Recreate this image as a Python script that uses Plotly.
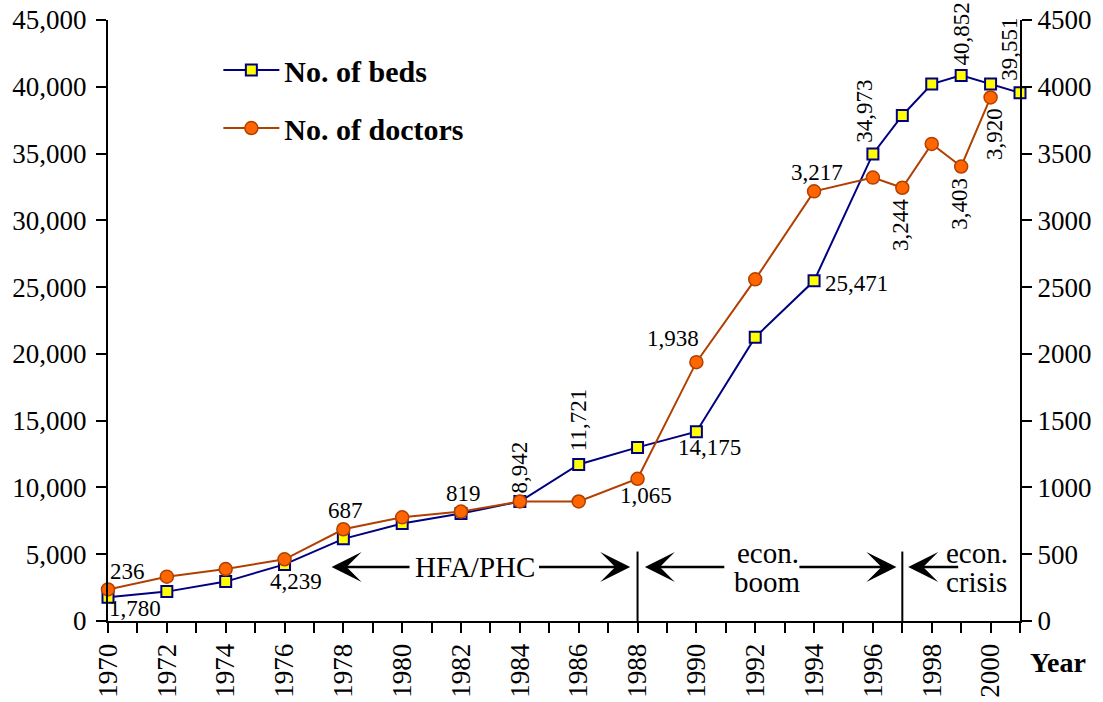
import plotly.graph_objects as go

# ---------------- data ----------------
years_beds = [1970, 1972, 1974, 1976, 1978, 1980, 1982, 1984, 1986, 1988, 1990,
              1992, 1994, 1996, 1997, 1998, 1999, 2000, 2001]
beds = [1780, 2200, 2950, 4239, 6150, 7300, 8050, 8942, 11721, 13000, 14175,
        21250, 25471, 34973, 37850, 40200, 40852, 40200, 39551]

years_docs = [1970, 1972, 1974, 1976, 1978, 1980, 1982, 1984, 1986, 1988, 1990,
              1992, 1994, 1996, 1997, 1998, 1999, 2000]
doctors = [236, 332, 389, 462, 687, 776, 819, 895, 895, 1065, 1938,
           2558, 3217, 3320, 3244, 3572, 3403, 3920]

x_ticks = list(range(1970, 2002))
x_ticktext = [str(y) if y % 2 == 0 else "" for y in x_ticks]

# labelled points: year -> (xshift, yshift, angle)
beds_label_style = {1970: (27, -11, 0), 1976: (11, -17, 0), 1984: (0, 34, -90),
                    1986: (0, 44, -90), 1990: (13, -16, 0), 1994: (42, -3, 0),
                    1996: (-8, 43, -90), 1999: (0, 41, -90), 2001: (-10, 43, -90)}
docs_label_style = {1970: (19, 18, 0), 1978: (2, 19, 0), 1982: (2, 18, 0),
                    1988: (8, -17, 0), 1990: (-23, 24, 0), 1994: (3, 19, 0),
                    1997: (-2, -37, -90), 1999: (-2, -37, -90), 2000: (4, -37, -90)}

period_dividers = [1988, 1997]
divider_top = 520          # on doctors axis
arrow_level = 405          # on doctors axis

FONT = "Liberation Serif"
BEDS_LINE = "#000080"
BEDS_FILL = "#FFFF00"
DOC_LINE = "#B04000"
DOC_FILL = "#FF6600"

fig = go.Figure()
fig.add_trace(go.Scatter(
    x=years_beds, y=beds, name="<b>No. of beds</b>", mode="lines+markers",
    line=dict(color=BEDS_LINE, width=2),
    marker=dict(symbol="square", size=11, color=BEDS_FILL,
                line=dict(color=BEDS_LINE, width=2)),
    cliponaxis=False, legendgroup="a"))
fig.add_trace(go.Scatter(
    x=years_docs, y=doctors, name="<b>No. of doctors</b>", mode="lines+markers",
    line=dict(color=DOC_LINE, width=2),
    marker=dict(symbol="circle", size=13, color=DOC_FILL,
                line=dict(color=DOC_LINE, width=1.5)),
    cliponaxis=False, yaxis="y2", legendgroup="b"))

annotations = []
for yr, v in zip(years_beds, beds):
    if yr in beds_label_style:
        xs, ys, ang = beds_label_style[yr]
        annotations.append(dict(x=yr, y=v, xref="x", yref="y", text=f"{v:,}",
                                showarrow=False, xshift=xs, yshift=ys, textangle=ang,
                                font=dict(family=FONT, size=23, color="black")))
for yr, v in zip(years_docs, doctors):
    if yr in docs_label_style:
        xs, ys, ang = docs_label_style[yr]
        annotations.append(dict(x=yr, y=v, xref="x", yref="y2", text=f"{v:,}",
                                showarrow=False, xshift=xs, yshift=ys, textangle=ang,
                                font=dict(family=FONT, size=23, color="black")))

# period arrows: (head_x, tail_x)
arrows = [(1977.6, 1980.3), (1987.75, 1984.6), (1988.25, 1991.0),
          (1996.8, 1993.45), (1997.2, 1998.95)]
for hx, tx in arrows:
    annotations.append(dict(x=hx, y=arrow_level, xref="x", yref="y2",
                            ax=tx, ay=arrow_level, axref="x", ayref="y2",
                            text="", showarrow=True, arrowhead=3, arrowsize=2,
                            arrowwidth=2.5, arrowcolor="black", standoff=0))

period_texts = [("HFA/PHC", 1982.47, 0), ("econ.", 1992.43, 14), ("boom", 1992.43, -15),
                ("econ.", 1999.53, 14), ("crisis", 1999.53, -15)]
for t, xx, ys in period_texts:
    annotations.append(dict(x=xx, y=arrow_level, xref="x", yref="y2", text=t,
                            showarrow=False, yshift=ys,
                            font=dict(family=FONT, size=29, color="black")))

annotations.append(dict(x=1.0, y=0, xref="paper", yref="paper", xanchor="left",
                        yanchor="middle", xshift=8, yshift=-41,
                        text="<b>Year</b>", showarrow=False,
                        font=dict(family=FONT, size=28, color="black")))

shapes = [dict(type="line", x0=d, x1=d, y0=0, y1=divider_top, xref="x", yref="y2",
               line=dict(color="black", width=2)) for d in period_dividers]

axis_common = dict(showgrid=False, zeroline=False, showline=True, linecolor="black",
                   linewidth=2, automargin=False, ticks="outside", ticklen=10,
                   tickwidth=2, tickcolor="black", ticklabeloverflow="allow",
                   tickfont=dict(family=FONT, size=27, color="black"))

fig.update_layout(
    width=1103, height=702,
    margin=dict(l=108, r=83, t=20, b=81),
    plot_bgcolor="white", paper_bgcolor="white",
    font=dict(family=FONT, size=27, color="black"),
    showlegend=True,
    legend=dict(x=0.121, y=0.96, xanchor="left", yanchor="top",
                bgcolor="rgba(0,0,0,0)", font=dict(family=FONT, size=30, color="black"),
                tracegroupgap=16, itemwidth=56),
    xaxis=dict(range=[1970, 2001], tickmode="array", tickvals=x_ticks,
               ticktext=x_ticktext, tickangle=-90, **axis_common),
    yaxis=dict(range=[0, 45000], dtick=5000, tickformat=",", ticklabelstandoff=4,
               **axis_common),
    yaxis2=dict(range=[0, 4500], dtick=500, overlaying="y", side="right",
                tickformat="d", **axis_common),
    annotations=annotations,
    shapes=shapes,
)

fig.write_html("out.html", config={"displayModeBar": False},
               post_script="document.body.style.margin='0';"
                           "document.body.style.overflow='hidden';")
